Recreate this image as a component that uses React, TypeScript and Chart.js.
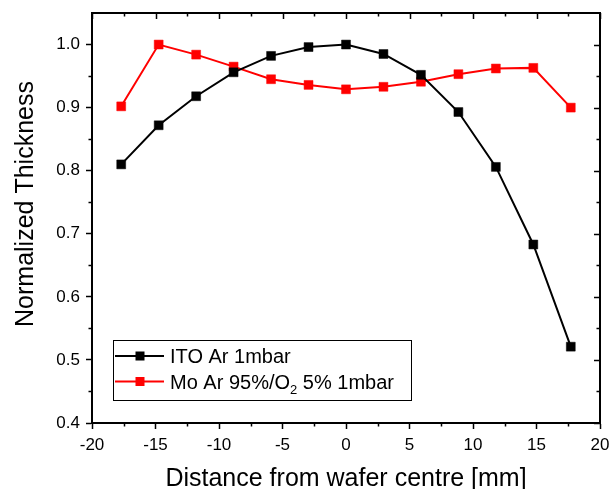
import React, { useEffect, useRef } from 'react';
import { Chart, registerables } from 'chart.js';

Chart.register(...registerables);

// ---- data ----
const distances = [-17.7, -14.75, -11.8, -8.85, -5.9, -2.95, 0, 2.95, 5.9, 8.85, 11.8, 14.75, 17.7];
const itoThickness = [0.81, 0.872, 0.918, 0.956, 0.982, 0.996, 1.0, 0.985, 0.952, 0.893, 0.806, 0.683, 0.521];
const moThickness = [0.902, 1.0, 0.984, 0.965, 0.945, 0.936, 0.929, 0.933, 0.941, 0.953, 0.962, 0.963, 0.9];
const seriesNames = ['ITO Ar 1mbar', 'Mo Ar 95%/O2 5% 1mbar'];
const seriesColors = ['#000000', '#ff0000'];
const xMajorTicks = [-20, -15, -10, -5, 0, 5, 10, 15, 20];
const xMinorTicks = [-17.5, -12.5, -7.5, -2.5, 2.5, 7.5, 12.5, 17.5];
const yMajorTicks = [0.4, 0.5, 0.6, 0.7, 0.8, 0.9, 1.0];
const yMinorTicks = [0.45, 0.55, 0.65, 0.75, 0.85, 0.95];
const xTitle = 'Distance from wafer centre [mm]';
const yTitle = 'Normalized Thickness';

const FONT = '"Liberation Sans", Arial, Helvetica, sans-serif';

export default function App() {
  const ref = useRef<HTMLCanvasElement>(null);

  useEffect(() => {
    document.body.style.margin = '0';
    const canvas = ref.current;
    if (!canvas) return;

    const framePlugin = {
      id: 'framePlugin',
      afterDraw(chart: any) {
        const { ctx, chartArea } = chart;
        const xs = chart.scales.x;
        const ys = chart.scales.y;
        const { left, right, top, bottom } = chartArea;
        ctx.save();
        ctx.strokeStyle = '#000';
        ctx.lineWidth = 2;
        // top and right borders
        ctx.beginPath();
        ctx.moveTo(left, top);
        ctx.lineTo(right, top);
        ctx.lineTo(right, bottom);
        ctx.stroke();
        ctx.lineWidth = 1.5;
        ctx.beginPath();
        // x minor ticks bottom (outward) and top (inward)
        xMinorTicks.forEach((v) => {
          const px = Math.round(xs.getPixelForValue(v)) + 0.5;
          ctx.moveTo(px, bottom);
          ctx.lineTo(px, bottom + 3.5);
          ctx.moveTo(px, top);
          ctx.lineTo(px, top + 3.5);
        });
        xMajorTicks.forEach((v) => {
          const px = Math.round(xs.getPixelForValue(v)) + 0.5;
          ctx.moveTo(px, top);
          ctx.lineTo(px, top + 6);
        });
        yMinorTicks.forEach((v) => {
          const py = Math.round(ys.getPixelForValue(v)) + 0.5;
          ctx.moveTo(left, py);
          ctx.lineTo(left - 3.5, py);
          ctx.moveTo(right, py);
          ctx.lineTo(right - 3.5, py);
        });
        yMajorTicks.forEach((v) => {
          const py = Math.round(ys.getPixelForValue(v)) + 0.5;
          ctx.moveTo(right, py);
          ctx.lineTo(right - 6, py);
        });
        ctx.stroke();

        // axis titles
        ctx.fillStyle = '#000';
        ctx.font = `25px ${FONT}`;
        ctx.textAlign = 'center';
        ctx.textBaseline = 'alphabetic';
        ctx.fillText(xTitle, (left + right) / 2, 486);
        ctx.save();
        ctx.translate(33, 204);
        ctx.rotate(-Math.PI / 2);
        ctx.fillText(yTitle, 0, 0);
        ctx.restore();

        // legend
        const bx = 113.5, by = 340.5, bw = 298, bh = 60;
        ctx.lineWidth = 1;
        ctx.strokeStyle = '#000';
        ctx.strokeRect(bx, by, bw, bh);
        const rowY = [356, 381.5];
        seriesNames.forEach((name, i) => {
          const y = rowY[i];
          ctx.strokeStyle = seriesColors[i];
          ctx.lineWidth = 2;
          ctx.beginPath();
          ctx.moveTo(115, y);
          ctx.lineTo(164, y);
          ctx.stroke();
          ctx.fillStyle = seriesColors[i];
          ctx.fillRect(140 - 4.5, y - 4.5, 9, 9);
          ctx.fillStyle = '#000';
          ctx.textAlign = 'left';
          ctx.textBaseline = 'alphabetic';
          ctx.font = `20px ${FONT}`;
          const base = y + 7;
          const subIdx = name.indexOf('O2');
          if (subIdx >= 0) {
            const pre = name.slice(0, subIdx + 1);
            const post = name.slice(subIdx + 2);
            let x = 170;
            ctx.fillText(pre, x, base);
            x += ctx.measureText(pre).width;
            ctx.font = `13px ${FONT}`;
            ctx.fillText('2', x, base + 5);
            x += ctx.measureText('2').width;
            ctx.font = `20px ${FONT}`;
            ctx.fillText(post, x, base);
          } else {
            ctx.fillText(name, 170, base);
          }
        });
        ctx.restore();
      },
    };

    const chart = new Chart(canvas, {
      type: 'line',
      data: {
        datasets: [
          {
            label: 'ITO Ar 1mbar',
            data: distances.map((x, i) => ({ x, y: itoThickness[i] })),
            borderColor: seriesColors[0],
            backgroundColor: seriesColors[0],
            borderWidth: 2,
            pointStyle: 'rect',
            pointRadius: 6.3,
            pointBorderWidth: 0.5,
            pointBackgroundColor: seriesColors[0],
            pointBorderColor: seriesColors[0],
            tension: 0,
          },
          {
            label: 'Mo Ar 95%/O2 5% 1mbar',
            data: distances.map((x, i) => ({ x, y: moThickness[i] })),
            borderColor: seriesColors[1],
            backgroundColor: seriesColors[1],
            borderWidth: 2,
            pointStyle: 'rect',
            pointRadius: 6.3,
            pointBorderWidth: 0.5,
            pointBackgroundColor: seriesColors[1],
            pointBorderColor: seriesColors[1],
            tension: 0,
          },
        ],
      },
      options: {
        responsive: false,
        animation: false,
        devicePixelRatio: 1,
        layout: { padding: { left: 0, top: 13, right: 11, bottom: 0 } },
        plugins: { legend: { display: false }, tooltip: { enabled: false } },
        scales: {
          x: {
            type: 'linear',
            min: -20,
            max: 20,
            afterFit: (s: any) => { s.height = 66; s.paddingLeft = 0; s.paddingRight = 0; },
            afterBuildTicks: (s: any) => { s.ticks = xMajorTicks.map((v) => ({ value: v })); },
            ticks: {
              color: '#000',
              font: { family: FONT, size: 17 },
              padding: 6,
              callback: (v: any) => String(v),
            },
            grid: { drawOnChartArea: false, drawTicks: true, tickLength: 6, tickColor: '#000', tickWidth: 1.5 },
            border: { display: true, color: '#000', width: 2 },
          },
          y: {
            type: 'linear',
            min: 0.4,
            max: 1.05,
            afterFit: (s: any) => { s.width = 92; s.paddingTop = 0; s.paddingBottom = 0; },
            afterBuildTicks: (s: any) => { s.ticks = yMajorTicks.map((v) => ({ value: v })); },
            ticks: {
              color: '#000',
              font: { family: FONT, size: 17 },
              padding: 6,
              callback: (v: any) => Number(v).toFixed(1),
            },
            grid: { drawOnChartArea: false, drawTicks: true, tickLength: 6, tickColor: '#000', tickWidth: 1.5 },
            border: { display: true, color: '#000', width: 2 },
          },
        },
      },
      plugins: [framePlugin],
    });

    return () => chart.destroy();
  }, []);

  return (
    <div style={{ position: 'absolute', left: 0, top: 0, width: 611, height: 489, background: '#fff' }}>
      <canvas ref={ref} width={611} height={489} style={{ display: 'block' }} />
    </div>
  );
}
